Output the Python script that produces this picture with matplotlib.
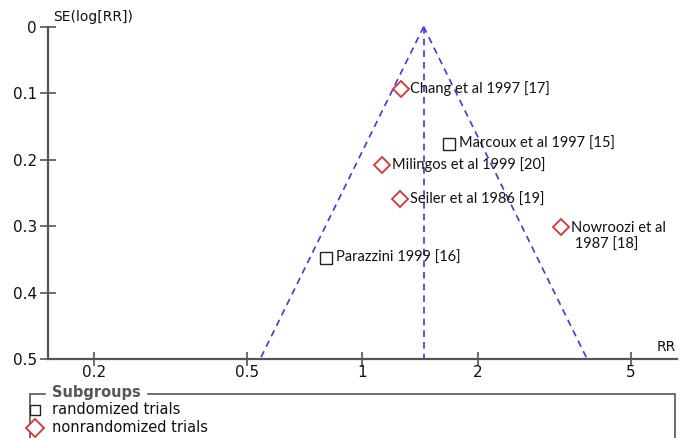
import numpy as np
import matplotlib
matplotlib.use('Agg')
import matplotlib.pyplot as plt
from matplotlib.patches import Rectangle
from matplotlib.lines import Line2D

# Studies
studies = ['Chang et al 1997 [17]', 'Marcoux et al 1997 [15]', 'Milingos et al 1999 [20]',
           'Seiler et al 1986 [19]', 'Nowroozi et al\n 1987 [18]', 'Parazzini 1999 [16]']
rr = [1.258, 1.681, 1.129, 1.254, 3.29, 0.804]
se = [0.093, 0.176, 0.208, 0.260, 0.301, 0.348]
randomized = [False, True, False, False, False, True]

pooled_rr = 1.445
se_max = 0.5
xticks = [0.2, 0.5, 1, 2, 5]
yticks = [0, 0.1, 0.2, 0.3, 0.4, 0.5]

axis_col = '#555555'
blue = '#3a3ae6'
red = '#e03030'

fig = plt.figure(figsize=(6.84, 4.38), dpi=100)
ax = fig.add_axes([48/684, 79/438, (677-48)/684, (359-26.7)/438])

ax.set_xscale('log')
ax.set_xlim(0.152, 6.6)
ax.set_ylim(se_max, 0)

# funnel (95% limits around pooled estimate)
se_line = np.array([0, se_max])
lo = np.exp(np.log(pooled_rr) - 1.96 * se_line)
hi = np.exp(np.log(pooled_rr) + 1.96 * se_line)
ax.plot(lo, se_line, ls=(0, (4, 3)), color=blue, lw=1.2, clip_on=False)
ax.plot(hi, se_line, ls=(0, (4, 3)), color=blue, lw=1.2, clip_on=False)
ax.plot([pooled_rr, pooled_rr], [0, se_max], ls=(0, (4, 3)), color=blue, lw=1.2, clip_on=False)

for name, x, y, r in zip(studies, rr, se, randomized):
    if r:
        ax.plot(x, y, 's', ms=8, mfc='white', mec='#222222', mew=1.0, zorder=3)
    else:
        ax.plot(x, y, 'D', ms=8, mfc='white', mec=red, mew=1.3, zorder=3)
    two_lines = '\n' in name
    ax.annotate(name, (x, y), xytext=(7, -7 if two_lines else 0), textcoords='offset points',
                va='center', ha='left', multialignment='left', linespacing=1.25,
                fontsize=10.5, family='Lato', color='#111111')

for s in ['top', 'right']:
    ax.spines[s].set_visible(False)
for s in ['left', 'bottom']:
    ax.spines[s].set_color(axis_col)
    ax.spines[s].set_linewidth(1.6)

ax.set_xticks(xticks)
ax.set_xticklabels([str(v) for v in xticks])
ax.xaxis.set_minor_locator(matplotlib.ticker.NullLocator())
ax.set_yticks(yticks)
ax.set_yticklabels(['0', '0.1', '0.2', '0.3', '0.4', '0.5'])
ax.tick_params(direction='inout', length=10, width=1.2, color=axis_col,
               labelsize=11, labelcolor='#111111')
ax.tick_params(axis='y', length=12, pad=2)
ax.tick_params(axis='x', pad=-1)

fig.text(53/684, 1 - 17/438, 'SE(log[RR])', fontsize=10, color='#111111', va='center', ha='left')
fig.text(657/684, 1 - 347/438, 'RR', fontsize=10, color='#111111', va='center', ha='left')

# legend box
fig.patches.append(Rectangle((30/684, -0.05), (675-30)/684, 0.05 + (438-394)/438,
                             transform=fig.transFigure, fill=False, ec=axis_col, lw=1.2))
fig.text(52/684, 1 - 393/438, 'Subgroups', fontsize=10.5, weight='bold', color='#555555',
         va='center', ha='left', backgroundcolor='white')
fig.lines.append(Line2D([35/684], [1 - 410/438], marker='s', ms=7.5, mfc='white', mec='#222222',
                        transform=fig.transFigure))
fig.lines.append(Line2D([35/684], [1 - 428/438], marker='D', ms=9, mfc='white', mec=red, mew=1.3,
                        transform=fig.transFigure))
fig.text(52/684, 1 - 410/438, 'randomized trials', fontsize=10.5, color='#111111', va='center')
fig.text(52/684, 1 - 428/438, 'nonrandomized trials', fontsize=10.5, color='#111111', va='center')

fig.savefig('out.png', dpi=100)
